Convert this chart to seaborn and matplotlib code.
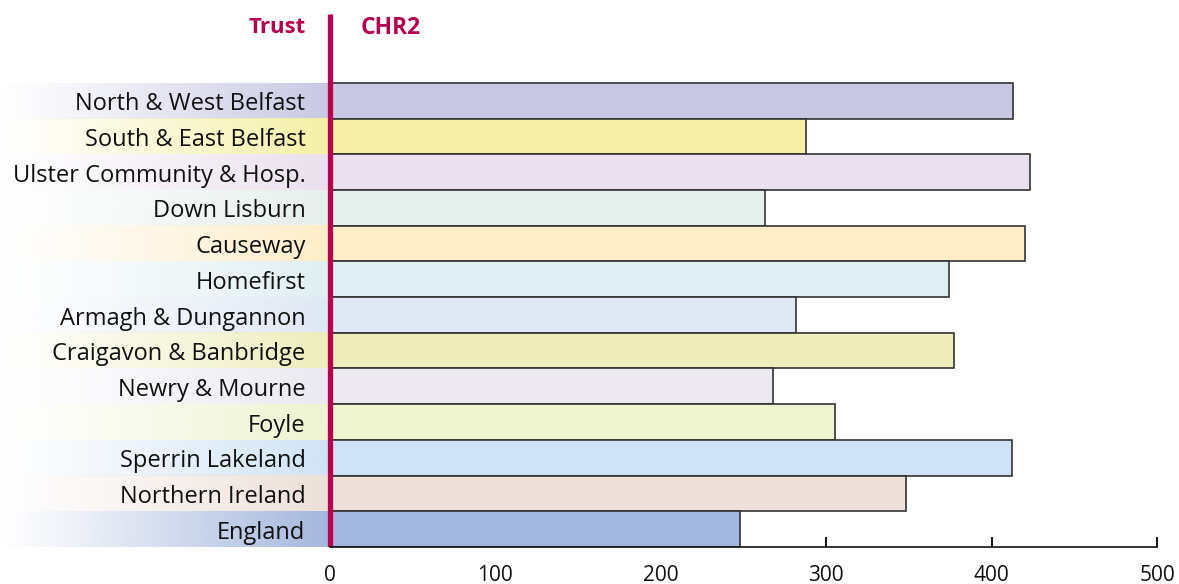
import matplotlib
matplotlib.use("Agg")
import matplotlib.pyplot as plt
import matplotlib.colors as mcolors
import numpy as np
import pandas as pd
import seaborn as sns

trusts = ["North & West Belfast", "South & East Belfast", "Ulster Community & Hosp.",
          "Down Lisburn", "Causeway", "Homefirst", "Armagh & Dungannon",
          "Craigavon & Banbridge", "Newry & Mourne", "Foyle", "Sperrin Lakeland",
          "Northern Ireland", "England"]
chr2 = [413, 288, 423, 263, 420, 374, 282, 377, 268, 305, 412, 348, 248]
colors = ["#C8C8E4", "#F5F0A5", "#EBE0EE", "#E6F0EC", "#FEEDC8", "#E0EFF3",
          "#DFE8F5", "#EEEDBB", "#ECE9F1", "#EEF4D0", "#D0E3F6", "#EDE0D8", "#A4B7DE"]
xticks = [0, 100, 200, 300, 400, 500]

MAGENTA = "#B5004F"
FONT = ["Open Sans", "DejaVu Sans"]

sns.set_theme(style="white")
plt.rcParams["font.family"] = FONT

W, H = 1179, 584
fig = plt.figure(figsize=(W / 100, H / 100), dpi=100)
ax_bottom_px, ax_top_px = 547, 10
ax = fig.add_axes([0, 1 - ax_bottom_px / H, 1, (ax_bottom_px - ax_top_px) / H])

df = pd.DataFrame({"trust": trusts, "value": chr2})
sns.barplot(data=df, y="trust", x="value", hue="trust", palette=colors,
            order=trusts, hue_order=trusts, legend=False, orient="h",
            width=1.0, saturation=1, edgecolor="#333333", linewidth=1.2,
            ax=ax, zorder=2)

x_scale = W / 712.0
x_left = -329.5 / x_scale
x_right = x_left + 712.0
slot = 35.7
n = len(trusts)
y_bottom = n - 0.5
y_top = y_bottom - (ax_bottom_px - ax_top_px) / slot
ax.set_xlim(x_left, x_right)
ax.set_ylim(y_bottom, y_top)

# gradient label backgrounds
for i, c in enumerate(colors):
    rgb = mcolors.to_rgb(c)
    grad = np.zeros((1, 256, 4))
    grad[..., 0], grad[..., 1], grad[..., 2] = rgb
    grad[0, :, 3] = np.linspace(0, 1, 256) ** 1.1
    ax.imshow(grad, extent=[x_left, 0, i + 0.5, i - 0.5], aspect="auto",
              interpolation="bilinear", zorder=1)
    ax.text(-14.5, i + 0.1, trusts[i], ha="right", va="center", fontsize=17,
            color="#111111", zorder=3)

# magenta divider
line_top = y_bottom - (ax_bottom_px - 14) / slot
ax.plot([0, 0], [y_bottom, line_top], color=MAGENTA, lw=3.8,
        solid_capstyle="butt", zorder=4)

hdr_y = y_bottom - (ax_bottom_px - 28) / slot
ax.text(-14.5, hdr_y, "Trust", ha="right", va="center", fontsize=16,
        fontweight="bold", color=MAGENTA)
ax.text(19, hdr_y, "CHR2", ha="left", va="center", fontsize=16.5,
        fontweight="bold", color=MAGENTA)

# axes styling
for s in ["top", "right", "left"]:
    ax.spines[s].set_visible(False)
ax.spines["bottom"].set_bounds(0, 500)
ax.spines["bottom"].set_color("#111111")
ax.spines["bottom"].set_linewidth(1.2)
ax.spines["bottom"].set_zorder(5)
ax.set_xticks(xticks)
ax.set_xticklabels([str(t) for t in xticks])
ax.tick_params(axis="x", direction="in", length=7.5, width=1.4, color="#111111",
               pad=13, labelsize=15, labelcolor="#111111", bottom=True)
ax.set_yticks([])
ax.set_xlabel("")
ax.set_ylabel("")
ax.grid(False)
ax.patch.set_alpha(0)

fig.savefig("out.png", dpi=100)
